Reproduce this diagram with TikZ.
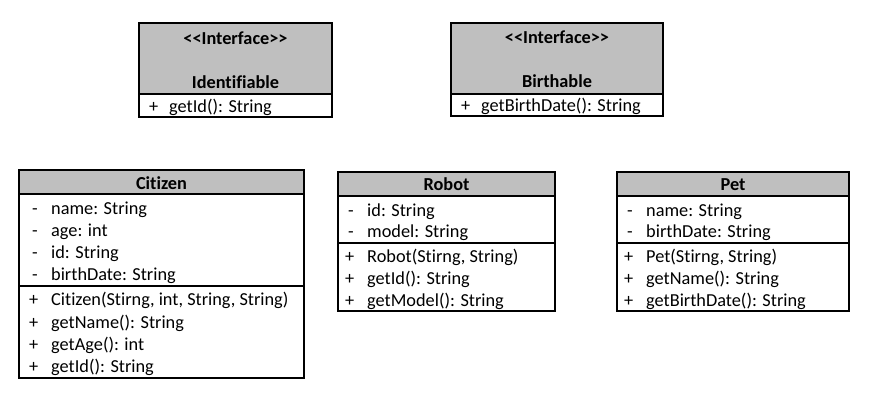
\documentclass[tikz,border=0pt]{standalone}
\usepackage{fontspec}
\setmainfont{Carlito}[Ligatures={NoCommon}]
\usetikzlibrary{fit}
\definecolor{hdrgrey}{HTML}{BFBFBF}
\newcommand{\stereo}[1]{<\kern0pt<#1>\kern0pt>}
\tikzset{
  box/.style={draw=black, line width=1.8pt, inner sep=0pt, fit={#1}},
  hdr/.style={box={#1}, fill=hdrgrey},
  txt/.style={anchor=base west, inner sep=0pt, font=\fontsize{18.3}{22}\selectfont},
  ttl/.style={anchor=base, inner sep=0pt, font=\fontsize{18.3}{22}\selectfont\bfseries},
}
\begin{document}
\begin{tikzpicture}[x=1pt,y=-1pt]
\useasboundingbox (0,0) rectangle (879,405);
% Identifiable
\node[hdr={(139,23) (332,94)}] (idh) {};
\node[box={(139,94) (332,117)}] (idb) {};
\node[ttl] (idst) at (235.5,44) {\stereo{Interface}};
\node[ttl] (idnm) at (235.5,88) {Identifiable};
\node[txt] (idv1) at (149,112) {+};
\node[txt] (idm1) at (169,112) {getId(): String};
% Birthable
\node[hdr={(451,23) (663,94)}] (bh) {};
\node[box={(451,94) (663,116)}] (bb) {};
\node[ttl] (bst) at (557,43) {\stereo{Interface}};
\node[ttl] (bnm) at (557,87) {Birthable};
\node[txt] (bv1) at (461,111) {+};
\node[txt] (bm1) at (481,111) {getBirthDate(): String};
% Citizen
\node[hdr={(19,170) (304,194)}] (ch) {};
\node[box={(19,194) (304,286)}] (ca) {};
\node[box={(19,286) (304,378)}] (cm) {};
\node[ttl] (cnm) at (161.5,189) {Citizen};
\foreach \y/\t [count=\i] in {214/name: String, 236/age: int, 258/id: String, 280/birthDate: String}{
  \node[txt] (cav\i) at (32,\y) {-};
  \node[txt] (cat\i) at (51,\y) {\t};
}
\foreach \y/\t [count=\i] in {305/{Citizen(Stirng, int, String, String)}, 328/getName(): String, 350/getAge(): int, 372/getId(): String}{
  \node[txt] (cmv\i) at (29,\y) {+};
  \node[txt] (cmt\i) at (51,\y) {\t};
}
% Robot
\node[hdr={(338,172) (555,196)}] (rh) {};
\node[box={(338,196) (555,243)}] (ra) {};
\node[box={(338,243) (555,311)}] (rm) {};
\node[ttl] (rnm) at (446.5,190) {Robot};
\foreach \y/\t [count=\i] in {216/id: String, 237/model: String}{
  \node[txt] (rav\i) at (348,\y) {-};
  \node[txt] (rat\i) at (367,\y) {\t};
}
\foreach \y/\t [count=\i] in {262/{Robot(Stirng, String)}, 284/getId(): String, 306/getModel(): String}{
  \node[txt] (rmv\i) at (345,\y) {+};
  \node[txt] (rmt\i) at (367,\y) {\t};
}
% Pet
\node[hdr={(617,172) (849,196)}] (ph) {};
\node[box={(617,196) (849,243)}] (pa) {};
\node[box={(617,243) (849,311)}] (pm) {};
\node[ttl] (pnm) at (733,190) {Pet};
\foreach \y/\t [count=\i] in {216/name: String, 237/birthDate: String}{
  \node[txt] (pav\i) at (627,\y) {-};
  \node[txt] (pat\i) at (646,\y) {\t};
}
\foreach \y/\t [count=\i] in {262/{Pet(Stirng, String)}, 284/getName(): String, 306/getBirthDate(): String}{
  \node[txt] (pmv\i) at (624,\y) {+};
  \node[txt] (pmt\i) at (646,\y) {\t};
}
\end{tikzpicture}
\end{document}
